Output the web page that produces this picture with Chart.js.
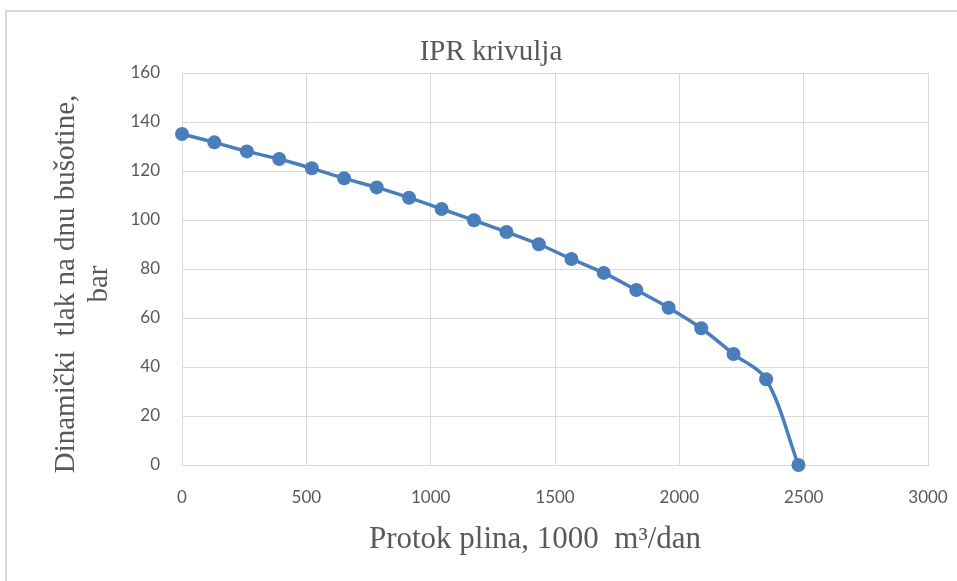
<!DOCTYPE html>
<html>
<head>
<meta charset="utf-8">
<script src="https://cdn.jsdelivr.net/npm/chart.js@4"></script>
<style>
  html, body { margin: 0; padding: 0; background: #ffffff; }
  #wrap { position: relative; width: 957px; height: 581px; overflow: hidden; }
  #frame { position: absolute; left: 5px; top: 10px; width: 1000px; height: 1000px;
           border: 2px solid #d9d9d9; box-sizing: border-box; }
  #c { position: absolute; left: 0; top: 0; }
</style>
</head>
<body>
<div id="wrap">
  <div id="frame"></div>
  <canvas id="c" width="957" height="581"></canvas>
</div>
<script>
// Gas flow rate, 1000 m3/day
const flowRate = [0, 130, 261, 391, 522, 652, 783, 913, 1044, 1174,
                  1305, 1435, 1566, 1696, 1827, 1957, 2088, 2218, 2349, 2479];
// Bottom-hole flowing pressure, bar
const pressure = [135.1, 131.7, 128.0, 124.9, 121.1, 117.0, 113.3, 109.1, 104.5, 99.9,
                  95.1, 90.1, 84.1, 78.4, 71.4, 64.2, 55.8, 45.3, 35.0, 0];

const xTicks = [0, 500, 1000, 1500, 2000, 2500, 3000];
const yTicks = [0, 20, 40, 60, 80, 100, 120, 140, 160];

const chartTitle = 'IPR krivulja';
const xTitle = 'Protok plina, 1000  m³/dan';
const yTitle = ['Dinamički  tlak na dnu bušotine,', 'bar'];

const textColor = '#595959';
const gridColor = '#d9d9d9';
const lineColor = '#4a7ebb';
const serif = '"Liberation Serif", "Times New Roman", serif';
const sans = 'Lato, "Liberation Sans", sans-serif';

// Chart title and axis titles, drawn in serif
const titlesPlugin = {
  id: 'serifTitles',
  afterDraw(chart) {
    const { ctx } = chart;
    ctx.save();
    ctx.fillStyle = textColor;
    ctx.textAlign = 'center';
    ctx.textBaseline = 'alphabetic';

    ctx.font = '29px ' + serif;
    ctx.fillText(chartTitle, 491, 60);

    ctx.font = '31px ' + serif;
    ctx.fillText(xTitle, 535, 548);

    ctx.font = '29px ' + serif;
    const midY = 284;
    const baselines = [74, 107];
    yTitle.forEach((line, i) => {
      ctx.save();
      ctx.translate(baselines[i], midY);
      ctx.rotate(-Math.PI / 2);
      ctx.fillText(line, 0, 0);
      ctx.restore();
    });
    ctx.restore();
  }
};

const plainNumber = v => String(v);

new Chart(document.getElementById('c'), {
  type: 'line',
  data: {
    datasets: [{
      data: flowRate.map((q, i) => ({ x: q, y: pressure[i] })),
      borderColor: lineColor,
      backgroundColor: lineColor,
      pointBackgroundColor: lineColor,
      pointBorderColor: lineColor,
      borderWidth: 3.5,
      pointRadius: 7,
      pointBorderWidth: 0,
      tension: 0.33,
      clip: false,
      fill: false
    }]
  },
  options: {
    responsive: false,
    animation: false,
    devicePixelRatio: 1,
    layout: { padding: { left: 0, right: 29, top: 73, bottom: 0 } },
    plugins: {
      legend: { display: false },
      title: { display: false },
      tooltip: { enabled: false }
    },
    scales: {
      x: {
        type: 'linear',
        min: 0,
        max: 3000,
        afterBuildTicks: s => { s.ticks = xTicks.map(v => ({ value: v })); },
        afterFit: s => { s.height = 116; s.paddingLeft = 0; s.paddingRight = 0; },
        grid: { color: gridColor, lineWidth: 1, drawTicks: false },
        border: { color: gridColor, width: 1 },
        ticks: { color: textColor, font: { family: sans, size: 17 }, padding: 22,
                 maxRotation: 0, callback: plainNumber }
      },
      y: {
        type: 'linear',
        min: 0,
        max: 160,
        afterBuildTicks: s => { s.ticks = yTicks.map(v => ({ value: v })); },
        afterFit: s => { s.width = 182; s.paddingTop = 0; s.paddingBottom = 0; },
        grid: { color: gridColor, lineWidth: 1, drawTicks: false },
        border: { color: gridColor, width: 1 },
        ticks: { color: textColor, font: { family: sans, size: 17 }, padding: 22,
                 callback: plainNumber }
      }
    }
  },
  plugins: [titlesPlugin]
});
</script>
</body>
</html>
